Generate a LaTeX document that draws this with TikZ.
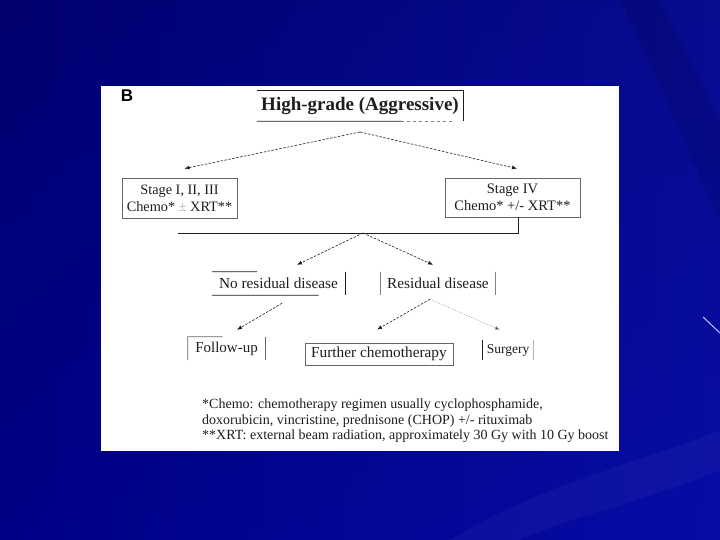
\documentclass[tikz,border=0pt]{standalone}
\usepackage{fontspec}
\setmainfont{Liberation Serif}
\newfontfamily\labelsans{Liberation Sans}
\usetikzlibrary{arrows.meta,calc}
\definecolor{bgdark}{RGB}{0,0,112}
\definecolor{bgmid}{RGB}{0,0,150}
\definecolor{bglight}{RGB}{20,30,190}
\definecolor{streak}{RGB}{200,185,255}
\definecolor{ink}{RGB}{30,30,30}
\tikzset{
  boxline/.style={draw=ink, line width=0.8pt},
  flowtext/.style={font=\fontsize{15.3}{17}\selectfont, text=ink, inner sep=0pt},
  dasharrow/.style={draw=ink, line width=0.6pt, dash pattern=on 2.5pt off 1.5pt, -{Latex[length=5pt,width=4pt]}},
  dotarrow/.style={draw=gray!70, line width=0.6pt, dash pattern=on 1pt off 1.5pt, -{Latex[length=5pt,width=4pt,fill=ink]}},
}
\begin{document}
\begin{tikzpicture}[x=1pt,y=-1pt]
\useasboundingbox (0,0) rectangle (720,540);
% background
\shade[top color=bgdark, bottom color=bgmid] (0,0) rectangle (720,540);
\shade[left color=bgdark, right color=bglight, opacity=0.4] (0,0) rectangle (720,540);
\fill[white, opacity=0.035] (450,540) .. controls (550,480) and (650,460) .. (720,430) -- (720,470) .. controls (650,500) and (560,520) .. (520,540) -- cycle;
\fill[black, opacity=0.1] (620,0) .. controls (660,80) and (690,160) .. (720,220) -- (720,120) .. controls (700,80) and (680,40) .. (660,0) -- cycle;
\draw[streak, line width=1pt] (703,317) -- (720,333);
% white panel
\fill[white] (101,86) rectangle (619,451);
% label B
\node (lab) at (127,96) {\labelsans\bfseries\fontsize{17}{17}\selectfont B};
% title
\node[minimum width=206pt, minimum height=30pt, inner sep=0pt, font=\bfseries\fontsize{19}{20}\selectfont, text=ink] (title) at (360,106) {High-grade (Aggressive)};
\draw[boxline] (title.north west) -- (title.north east) -- (title.south east);
\draw[boxline] (title.south west) -- ($(title.south west)!0.7!(title.south east)$);
\draw[boxline, dash pattern=on 3pt off 3pt, draw=gray] ($(title.south west)!0.7!(title.south east)$) -- ($(title.south west)!0.95!(title.south east)$);
% stage boxes
\node[boxline, draw=gray!80!black, minimum width=115pt, minimum height=40pt, inner sep=0pt, align=center, flowtext, font=\fontsize{14.3}{17}\selectfont] (s1) at (179.5,198) {Stage I, II, III\\Chemo* {\color{gray!60}±} XRT**};
\node[boxline, draw=gray!80!black, minimum width=135pt, minimum height=39pt, inner sep=0pt, align=center, flowtext, font=\fontsize{14.5}{17}\selectfont] (s4) at (512.5,197.5) {Stage IV\\Chemo* +/- XRT**};
\coordinate (apex) at (360,132);
\draw[dasharrow] (apex) -- ([xshift=5pt,yshift=9pt]s1.north);
\draw[dasharrow] (apex) -- ([xshift=4.5pt,yshift=9pt]s4.north);
% merge line
\coordinate (jl) at (178,233);
\coordinate (jr) at (518,233);
\coordinate (j) at (363,233);
\draw[boxline] (jl) -- (jr) -- (jr |- s4.south);
% residual nodes
\node[minimum width=133pt, minimum height=23pt, flowtext] (nr) at (278.5,283.5) {No residual disease};
\draw[boxline] (nr.north west) -- ($(nr.north west)!0.34!(nr.north east)$);
\draw[boxline] (nr.north east) -- (nr.south east);
\draw[boxline] (nr.south west) -- ($(nr.south west)!0.8!(nr.south east)$);
\node[minimum width=114pt, minimum height=23pt, flowtext] (rd) at (438,283.5) {Residual disease};
\draw[boxline, draw=gray] (rd.north west) -- (rd.south west);
\draw[boxline, draw=gray] (rd.north east) -- (rd.south east);
\draw[dasharrow] (j) -- ([xshift=18.5pt,yshift=7pt]nr.north);
\draw[dasharrow] (j) -- ([xshift=-5pt,yshift=7pt]rd.north);
% bottom nodes
\node[minimum width=77pt, minimum height=23pt, flowtext, font=\fontsize{15}{17}\selectfont] (fu) at (226.5,348.5) {Follow-up};
\draw[boxline, draw=gray!80!black] (fu.south west) -- (fu.north west) -- ($(fu.north west)!0.45!(fu.north east)$);
\draw[boxline, draw=gray!80!black] (fu.north east) -- (fu.south east);
\node[boxline, draw=gray!80!black, minimum width=148pt, minimum height=22pt, flowtext] (fc) at (379,354) {Further chemotherapy};
\node[minimum width=50pt, minimum height=20pt, flowtext, font=\fontsize{13.5}{15}\selectfont] (sg) at (508,350) {Surgery};
\draw[boxline] (sg.north west) -- (sg.south west);
\draw[boxline, draw=gray!60] (sg.north east) -- (sg.south east);
\draw[dasharrow] ([xshift=3.5pt,yshift=-8pt]nr.south) -- ([xshift=10.5pt,yshift=7pt]fu.north);
\draw[dasharrow] ([xshift=-8pt,yshift=-4pt]rd.south) -- ([xshift=-2pt,yshift=13pt]fc.north);
\draw[dotarrow] ([xshift=-8pt,yshift=-4pt]rd.south) -- ([xshift=-8pt,yshift=10pt]sg.north);
% footnote
\node[anchor=west, align=left, inner sep=0pt, text=ink, font=\fontsize{14}{15.5}\selectfont] (fn) at (202,421) {*Chemo: chemotherapy regimen usually cyclophosphamide,\\doxorubicin, vincristine, prednisone (CHOP) +/- rituximab\\**XRT: external beam radiation, approximately 30 Gy with 10 Gy boost};
\end{tikzpicture}
\end{document}
